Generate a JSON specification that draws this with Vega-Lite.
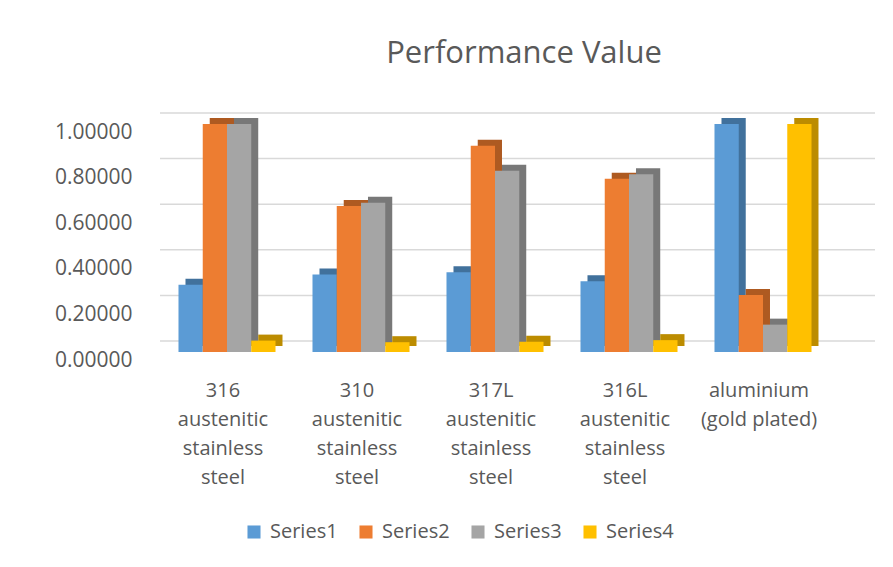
{
  "$schema": "https://vega.github.io/schema/vega-lite/v6.json",
  "width": 700,
  "height": 228,
  "autosize": "none",
  "padding": {"left": 160, "top": 124, "right": 33, "bottom": 215},
  "background": "white",
  "title": {"text": "Performance Value", "fontSize": 31, "font": "Open Sans", "fontWeight": "normal", "color": "#595959", "anchor": "middle", "offset": 42, "dx": 14},
  "datasets": {
    "bars": [
      {"material": "316|austenitic|stainless|steel", "series": "Series1", "value": 0.295},
      {"material": "316|austenitic|stainless|steel", "series": "Series2", "value": 1.0},
      {"material": "316|austenitic|stainless|steel", "series": "Series3", "value": 1.0},
      {"material": "316|austenitic|stainless|steel", "series": "Series4", "value": 0.05},
      {"material": "310|austenitic|stainless|steel", "series": "Series1", "value": 0.34},
      {"material": "310|austenitic|stainless|steel", "series": "Series2", "value": 0.64},
      {"material": "310|austenitic|stainless|steel", "series": "Series3", "value": 0.655},
      {"material": "310|austenitic|stainless|steel", "series": "Series4", "value": 0.043},
      {"material": "317L|austenitic|stainless|steel", "series": "Series1", "value": 0.35},
      {"material": "317L|austenitic|stainless|steel", "series": "Series2", "value": 0.905},
      {"material": "317L|austenitic|stainless|steel", "series": "Series3", "value": 0.795},
      {"material": "317L|austenitic|stainless|steel", "series": "Series4", "value": 0.045},
      {"material": "316L|austenitic|stainless|steel", "series": "Series1", "value": 0.31},
      {"material": "316L|austenitic|stainless|steel", "series": "Series2", "value": 0.76},
      {"material": "316L|austenitic|stainless|steel", "series": "Series3", "value": 0.78},
      {"material": "316L|austenitic|stainless|steel", "series": "Series4", "value": 0.052},
      {"material": "aluminium|(gold plated)", "series": "Series1", "value": 1.0},
      {"material": "aluminium|(gold plated)", "series": "Series2", "value": 0.25},
      {"material": "aluminium|(gold plated)", "series": "Series3", "value": 0.12},
      {"material": "aluminium|(gold plated)", "series": "Series4", "value": 1.0}
    ],
    "grid": [{"g": 0}, {"g": 0.2}, {"g": 0.4}, {"g": 0.6}, {"g": 0.8}, {"g": 1.0}]
  },
  "layer": [
    {
      "data": {"name": "grid"},
      "mark": {"type": "rule", "color": "#D9D9D9", "strokeWidth": 1.5, "xOffset": 15, "yOffset": -11},
      "encoding": {
        "y": {"field": "g", "type": "quantitative", "scale": {"domain": [0, 1], "nice": false},
          "axis": {"title": null, "values": [0, 0.2, 0.4, 0.6, 0.8, 1.0], "format": ".5f", "labelFont": "Open Sans", "labelFontSize": 21, "labelColor": "#595959", "domain": false, "ticks": false, "labelPadding": 28, "labelOffset": 8, "grid": false}}
      }
    },
    {
      "data": {"name": "bars"},
      "mark": {"type": "bar", "yOffset": -6,
        "fill": {"expr": "datum.series === 'Series1' ? '#41719C' : datum.series === 'Series2' ? '#AE5A21' : datum.series === 'Series3' ? '#787878' : '#BC8C00'"}},
      "encoding": {
        "x": {"field": "material", "type": "nominal", "sort": null,
          "scale": {"range": [0, 670], "paddingInner": 0.276, "paddingOuter": 0.138},
          "axis": {"title": null, "labelExpr": "split(datum.value, '|')", "labelAngle": 0, "labelFont": "Open Sans", "labelFontSize": 20, "labelLineHeight": 29, "labelColor": "#595959", "domain": false, "ticks": false, "labelPadding": 28, "labelOffset": -4, "labelLimit": 300, "grid": false}},
        "xOffset": {"field": "series", "type": "nominal", "scale": {"paddingInner": 0, "paddingOuter": 0, "range": [7, 104]}},
        "y": {"field": "value", "type": "quantitative"}
      }
    },
    {
      "data": {"name": "bars"},
      "mark": {"type": "bar"},
      "encoding": {
        "x": {"field": "material", "type": "nominal", "sort": null},
        "xOffset": {"field": "series", "type": "nominal", "scale": {"paddingInner": 0, "paddingOuter": 0}},
        "y": {"field": "value", "type": "quantitative"},
        "color": {"field": "series", "type": "nominal", "scale": {"domain": ["Series1", "Series2", "Series3", "Series4"], "range": ["#5B9BD5", "#ED7D31", "#A5A5A5", "#FFC000"]},
          "legend": {"title": null, "orient": "none", "legendX": 84, "legendY": 398, "direction": "horizontal", "symbolType": "square", "symbolSize": 170, "symbolStrokeWidth": 0, "labelFont": "Open Sans", "labelFontSize": 20, "labelColor": "#595959", "columnPadding": 18, "labelOffset": 6, "padding": 0}}
      }
    }
  ],
  "resolve": {"scale": {"xOffset": "independent"}},
  "config": {"view": {"stroke": null}}
}
